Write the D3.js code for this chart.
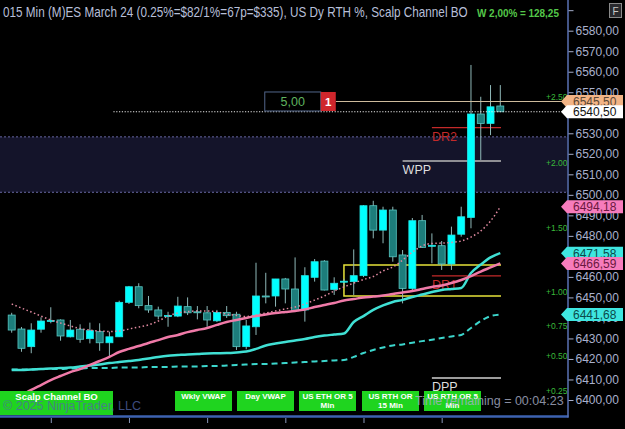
<!DOCTYPE html>
<html>
<head>
<meta charset="utf-8">
<script src="https://cdnjs.cloudflare.com/ajax/libs/d3/7.8.5/d3.min.js"></script>
<style>
html, body { margin: 0; padding: 0; background: #000; overflow: hidden; }
svg { display: block; font-family: "Liberation Sans", Arial, sans-serif; }
</style>
</head>
<body>
<div id="chart-area"></div>
<script>
// 15 min ES bars, 07:00 .. 19:30
var firstBar = "07:00";
var barMinutes = 15;

var opens = [6441.4, 6434.6, 6426.0, 6434.5, 6438.3, 6439.0, 6430.8, 6434.5, 6429.9, 6433.3,
	6427.9, 6430.8, 6447.6, 6455.2, 6446.0, 6443.9, 6440.9, 6440.9, 6445.5, 6443.0,
	6442.5, 6438.6, 6442.7, 6441.8, 6426.0, 6435.7, 6450.7, 6450.7, 6459.0, 6454.1,
	6443.9, 6459.8, 6467.7, 6453.9, 6457.7, 6457.7, 6460.6, 6494.7, 6482.8, 6492.6,
	6470.7, 6454.4, 6487.4, 6475.2, 6475.2, 6466.3, 6480.8, 6489.0, 6539.4, 6534.8, 6543.3];
var highs = [6442.5, 6435.6, 6437.4, 6440.3, 6445.2, 6439.3, 6439.0, 6436.9, 6437.7, 6437.4,
	6433.3, 6448.4, 6455.6, 6456.9, 6450.7, 6445.5, 6443.0, 6450.3, 6450.0, 6445.8,
	6445.8, 6443.9, 6445.8, 6443.0, 6439.0, 6466.9, 6462.0, 6459.0, 6459.5, 6469.5,
	6464.7, 6468.7, 6468.2, 6459.8, 6459.1, 6473.4, 6495.0, 6497.1, 6494.2, 6494.2,
	6473.1, 6488.7, 6490.2, 6481.2, 6477.5, 6484.5, 6494.2, 6563.3, 6547.8, 6553.5, 6553.5];
var lows = [6432.8, 6423.5, 6422.8, 6432.8, 6437.4, 6428.9, 6430.5, 6427.9, 6427.6, 6424.0,
	6421.4, 6430.7, 6446.8, 6444.7, 6442.5, 6439.3, 6435.7, 6440.4, 6441.4, 6439.3,
	6435.7, 6438.0, 6440.0, 6424.4, 6424.7, 6431.7, 6447.1, 6445.5, 6447.1, 6443.4,
	6438.2, 6457.7, 6453.4, 6451.2, 6455.2, 6451.2, 6459.9, 6478.8, 6476.4, 6467.4,
	6447.1, 6453.6, 6474.1, 6466.6, 6463.4, 6463.4, 6479.6, 6483.7, 6517.0, 6529.1, 6540.5];
var closes = [6434.1, 6425.2, 6434.1, 6438.5, 6438.8, 6431.2, 6434.1, 6429.6, 6433.8, 6427.9,
	6430.8, 6447.6, 6455.2, 6446.0, 6443.9, 6440.9, 6441.2, 6445.8, 6442.5, 6442.8,
	6439.0, 6442.7, 6441.1, 6426.0, 6436.1, 6450.7, 6450.4, 6459.0, 6454.1, 6443.5,
	6460.6, 6467.4, 6453.6, 6456.9, 6457.9, 6460.6, 6494.7, 6482.8, 6492.6, 6469.8,
	6454.4, 6487.4, 6474.4, 6475.4, 6466.3, 6480.4, 6489.3, 6539.4, 6534.8, 6542.9, 6540.5];

// indicator lines, one value per bar
var pinkVwap = [6400.5, 6402.4, 6404.9, 6407.3, 6409.7, 6411.7, 6413.6, 6415.1, 6417.1, 6419.0,
	6421.0, 6423.4, 6424.9, 6426.3, 6427.8, 6429.2, 6430.7, 6431.7, 6433.1, 6434.1,
	6435.1, 6436.6, 6438.0, 6439.0, 6440.0, 6440.9, 6441.7, 6442.4, 6442.9, 6443.4,
	6444.1, 6445.3, 6446.3, 6447.3, 6448.5, 6449.2, 6450.0, 6450.4, 6450.9, 6451.7,
	6452.4, 6453.1, 6454.1, 6455.1, 6455.8, 6457.0, 6458.5, 6460.4, 6462.6, 6464.6, 6466.59];
var pinkDotted = [6446.8, 6444.8, 6442.9, 6440.9, 6439.0, 6437.5, 6436.1, 6434.8, 6434.1, 6433.6,
	6433.4, 6433.6, 6434.6, 6435.6, 6436.6, 6438.5, 6440.9, 6442.4, 6443.1, 6443.4,
	6443.4, 6442.9, 6441.9, 6441.2, 6440.7, 6441.4, 6442.4, 6443.4, 6444.4, 6445.3,
	6446.8, 6448.7, 6450.7, 6453.1, 6455.1, 6457.0, 6458.7, 6460.2, 6462.9, 6464.8,
	6468.2, 6472.1, 6475.1, 6476.3, 6476.5, 6476.8, 6477.5, 6479.4, 6482.4, 6487.2, 6494.18];
var tealVwap = [6414.6, 6414.6, 6414.9, 6415.1, 6415.4, 6415.6, 6415.8, 6416.3, 6416.8, 6417.3,
	6418.0, 6418.5, 6419.0, 6419.5, 6420.2, 6421.0, 6421.6, 6421.9, 6422.2, 6422.4,
	6422.7, 6422.8, 6422.9, 6423.2, 6423.6, 6424.9, 6426.6, 6427.5, 6428.3, 6429.0,
	6429.7, 6430.7, 6431.4, 6431.9, 6432.4, 6438.0, 6440.9, 6443.9, 6446.1, 6447.8,
	6448.8, 6450.2, 6451.4, 6452.6, 6453.6, 6454.1, 6454.6, 6461.9, 6466.0, 6469.5, 6471.58];
var tealDashed = [6414.9, 6414.9, 6414.9, 6415.1, 6415.1, 6415.1, 6415.4, 6415.4, 6415.6, 6415.6,
	6415.6, 6415.8, 6415.8, 6415.8, 6416.1, 6416.1, 6416.1, 6416.3, 6416.3, 6416.3,
	6416.6, 6416.6, 6416.8, 6417.1, 6417.3, 6417.5, 6417.5, 6417.8, 6418.0, 6418.3,
	6418.5, 6418.8, 6419.0, 6419.3, 6419.5, 6421.0, 6422.9, 6424.4, 6425.6, 6426.6,
	6427.1, 6427.9, 6428.7, 6429.4, 6430.2, 6431.0, 6431.7, 6435.1, 6438.5, 6440.9, 6441.68];

var priceTicks = [6400, 6410, 6420, 6430, 6440, 6450, 6460, 6470, 6480, 6490,
	6500, 6510, 6520, 6530, 6540, 6550, 6560, 6570, 6580, 6590];
var timeTicks = ["08:00", "10:00", "12:00", "14:00", "16:00", "18:00"];

// pivot levels
var levelNames = ["DR2", "WPP", "DR1", "DPP"];
var levelPrices = [6532.75, 6516.5, 6460.5, 6410.75];
var levelStarts = ["17:45", "17:00", "17:45", "17:45"];

// shaded zone and opening range
var zonePrices = [6528.25, 6501.25];
var orPrices = [6465.75, 6450.75];
var orStart = "15:30";

// percent labels
var pctLabels = ["+2.50%", "+2.00%", "+1.50%", "+1.00%", "+0.75%", "+0.50%", "+0.25%"];
var pctPrices = [6547.5, 6515.5, 6483.75, 6452.5, 6436.0, 6421.5, 6404.5];

// order + last price
var orderPrice = 6545.50;
var orderQty = "5,00";
var orderCount = "1";
var orderStart = "13:30";
var lastPrice = 6540.50;
var lastStart = "09:30";

// right axis price markers
var tagPrices = [6545.50, 6540.50, 6494.18, 6471.58, 6466.59, 6441.68];
var tagFill = ["#f2b486", "#ffffff", "#f77cbc", "#3fe6e0", "#f77cbc", "#3fe6e0"];
var tagText = ["#5a4634", "#111111", "#6a1840", "#0b4a4a", "#6a1840", "#0b4a4a"];

var buttonLabels = [["Scalp Channel BO"], ["Wkly VWAP"], ["Day VWAP"],
	["US ETH OR 5", "Min"], ["US RTH OR", "15 Min"], ["US RTH OR 5", "Min"]];
var buttonX = [0, 175, 237, 299, 362, 424];

var W = 625, H = 429;
var plotRight = 567, plotBottom = 416;

var parseTime = d3.timeParse("%H:%M");
var fmtPrice = function(d){ return d3.format(".2f")(d).replace(".", ","); };

var times = opens.map(function(d, i){
	return d3.timeMinute.offset(parseTime(firstBar), i * barMinutes);
});

var x = d3.scaleTime()
	.domain([times[0], times[times.length - 1]])
	.range([11.7, 500.3]);
var y = d3.scaleLinear()
	.domain([6400, 6580])
	.range([400, 30.7]);

var xEnd = x(times[times.length - 1]) + 0.7;

var svg = d3.select("#chart-area")
	.append("svg")
	.attr("width", W)
	.attr("height", H);

svg.append("rect").attr("width", W).attr("height", H).attr("fill", "#000");

svg.append("defs").append("clipPath").attr("id", "plot-clip")
	.append("rect").attr("width", plotRight).attr("height", plotBottom);

var g = svg.append("g").attr("clip-path", "url(#plot-clip)");

// shaded zone
g.append("rect")
	.attr("x", 0).attr("width", plotRight)
	.attr("y", y(zonePrices[0]))
	.attr("height", y(zonePrices[1]) - y(zonePrices[0]))
	.attr("fill", "#14142a");
zonePrices.forEach(function(p){
	g.append("line")
		.attr("x1", 0).attr("x2", plotRight)
		.attr("y1", y(p)).attr("y2", y(p))
		.attr("stroke", "#6868a4").attr("stroke-width", 1)
		.attr("stroke-dasharray", "2,2");
});

// buttons
var buttons = svg.append("g");
buttonLabels.forEach(function(lines, i){
	var wide = i == 0;
	var bw = wide ? 113 : 57;
	var b = buttons.append("g").attr("transform", "translate(" + buttonX[i] + ",391)");
	b.append("rect")
		.attr("width", bw).attr("height", wide ? 24 : 20)
		.attr("fill", "#1fd41f");
	lines.forEach(function(t, j){
		b.append("text")
			.attr("x", bw / 2).attr("y", wide ? 9 : 7.5 + j * 9.5)
			.attr("text-anchor", "middle")
			.attr("font-size", wide ? 9.5 : 8)
			.attr("font-weight", "bold")
			.attr("fill", "#fff")
			.text(t);
	});
});

// opening range box
var orTop = y(orPrices[0]), orBot = y(orPrices[1]), orLeft = x(parseTime(orStart));
g.append("path")
	.attr("d", "M" + xEnd + "," + orTop + "H" + orLeft + "V" + orBot + "H" + xEnd)
	.attr("fill", "none")
	.attr("stroke", "#e6e23a")
	.attr("stroke-width", 1.5);

// pivot levels
var levelColor = {DR2: "#c42a2a", DR1: "#c42a2a", WPP: "#b8b8b8", DPP: "#d0d0d0"};
levelNames.forEach(function(name, i){
	var lx = x(parseTime(levelStarts[i]));
	var ly = y(levelPrices[i]);
	g.append("line")
		.attr("x1", lx).attr("x2", xEnd)
		.attr("y1", ly).attr("y2", ly)
		.attr("stroke", levelColor[name])
		.attr("stroke-width", name == "WPP" || name == "DPP" ? 1.5 : 1.2);
	g.append("text")
		.attr("x", lx).attr("y", ly + 13)
		.attr("font-size", 12.5)
		.attr("fill", name.indexOf("DR") == 0 ? "#c42a2a" : "#dedede")
		.text(name);
});

// candles
var bodyW = 7;
var candle = g.selectAll("g.candle")
	.data(times)
	.enter()
	.append("g")
	.attr("class", "candle");

candle.append("line")
	.attr("x1", function(d){ return x(d); })
	.attr("x2", function(d){ return x(d); })
	.attr("y1", function(d, i){ return y(highs[i]); })
	.attr("y2", function(d, i){ return y(lows[i]); })
	.attr("stroke", "#8fb8b8")
	.attr("stroke-width", 1);

candle.append("rect")
	.attr("x", function(d){ return x(d) - bodyW / 2; })
	.attr("width", bodyW)
	.attr("y", function(d, i){ return y(Math.max(opens[i], closes[i])); })
	.attr("height", function(d, i){
		return Math.max(1, Math.abs(y(opens[i]) - y(closes[i])));
	})
	.attr("fill", function(d, i){ return closes[i] >= opens[i] ? "#00ffff" : "#1d7d7b"; })
	.attr("stroke", function(d, i){ return closes[i] >= opens[i] ? "#22e4e4" : "#58c6c2"; })
	.attr("stroke-width", 0.8);

// indicator lines
var line = function(values){
	return d3.line()
		.x(function(d, i){ return x(times[i]); })
		.y(function(d){ return y(d); })
		.curve(d3.curveMonotoneX)(values);
};

g.append("path").attr("d", line(tealDashed))
	.attr("fill", "none").attr("stroke", "#3cd6cc")
	.attr("stroke-width", 2).attr("stroke-dasharray", "6,4");
g.append("path").attr("d", line(tealVwap))
	.attr("fill", "none").attr("stroke", "#40e0d4")
	.attr("stroke-width", 2.5);
g.append("path").attr("d", line(pinkVwap))
	.attr("fill", "none").attr("stroke", "#f07aa8")
	.attr("stroke-width", 2.5);
g.append("path").attr("d", line(pinkDotted))
	.attr("fill", "none").attr("stroke", "#e08aa0")
	.attr("stroke-width", 1.5).attr("stroke-dasharray", "1.5,2.5");

// last price dotted line
g.append("line")
	.attr("x1", x(parseTime(lastStart)) + 4).attr("x2", plotRight)
	.attr("y1", y(lastPrice)).attr("y2", y(lastPrice))
	.attr("stroke", "#e8e8e8").attr("stroke-width", 1.2)
	.attr("stroke-dasharray", "1.2,1.6");

// working order line and box
var ox = x(parseTime(orderStart)) - 1;
var oy = y(orderPrice);
g.append("line")
	.attr("x1", ox + 71).attr("x2", plotRight)
	.attr("y1", oy).attr("y2", oy)
	.attr("stroke", "#cdbb9c").attr("stroke-width", 1.2);
g.append("rect")
	.attr("x", ox).attr("y", oy - 9.5)
	.attr("width", 56).attr("height", 19)
	.attr("fill", "#000").attr("stroke", "#52668a").attr("stroke-width", 1);
g.append("text")
	.attr("x", ox + 28).attr("y", oy + 4.5)
	.attr("text-anchor", "middle").attr("font-size", 12.5)
	.attr("fill", "#5fb35f")
	.text(orderQty);
g.append("rect")
	.attr("x", ox + 56).attr("y", oy - 9.5)
	.attr("width", 15).attr("height", 19)
	.attr("fill", "#cf262c");
g.append("text")
	.attr("x", ox + 63.5).attr("y", oy + 4.5)
	.attr("text-anchor", "middle").attr("font-size", 11.5)
	.attr("font-weight", "bold").attr("fill", "#fff")
	.text(orderCount);

// percent labels
pctLabels.forEach(function(t, i){
	g.append("text")
		.attr("x", 546).attr("y", y(pctPrices[i]) + 3)
		.attr("font-size", 8.5)
		.attr("fill", "#3ab83a")
		.text(t);
});

// frame
svg.append("line")
	.attr("x1", 0).attr("x2", plotRight + 1.5)
	.attr("y1", plotBottom + 0.5).attr("y2", plotBottom + 0.5)
	.attr("stroke", "#3d62b0").attr("stroke-width", 2.5);
svg.append("line")
	.attr("x1", plotRight + 1).attr("x2", plotRight + 1)
	.attr("y1", 0).attr("y2", plotBottom + 1.5)
	.attr("stroke", "#5a72b4").attr("stroke-width", 1.5);

// right price axis
var yAxisCall = d3.axisRight(y)
	.tickValues(priceTicks)
	.tickSize(5)
	.tickPadding(2)
	.tickFormat(function(d){ return d > 6580 ? "" : fmtPrice(d); });
var yAxisGroup = svg.append("g")
	.attr("transform", "translate(" + (plotRight + 1.5) + ",0)")
	.call(yAxisCall);
yAxisGroup.select(".domain").remove();
yAxisGroup.selectAll("line").attr("stroke", "#a6aecb");
yAxisGroup.selectAll("text")
	.attr("fill", "#a9b0cc")
	.attr("font-size", 12)
	.attr("font-family", "'Liberation Sans', Arial, sans-serif");

// bottom time axis
var xAxisCall = d3.axisBottom(x)
	.tickValues(timeTicks.map(function(t){ return parseTime(t); }))
	.tickSize(5)
	.tickPadding(10)
	.tickFormat(d3.timeFormat("%H:%M"));
var xAxisGroup = svg.append("g")
	.attr("transform", "translate(0," + (plotBottom + 2) + ")")
	.call(xAxisCall);
xAxisGroup.select(".domain").remove();
xAxisGroup.selectAll("line").attr("stroke", "#8a96b8");
xAxisGroup.selectAll("text")
	.attr("fill", "#a9b0cc")
	.attr("font-size", 12)
	.attr("font-family", "'Liberation Sans', Arial, sans-serif");

// price tags
tagPrices.forEach(function(p, i){
	var ty = y(p);
	var x0 = 561, x1 = 623, h = 6.5;
	svg.append("path")
		.attr("d", "M" + x0 + "," + ty + "L" + (x0 + 6) + "," + (ty - h) + "H" + x1 +
			"V" + (ty + h) + "H" + (x0 + 6) + "Z")
		.attr("fill", tagFill[i]);
	svg.append("text")
		.attr("x", 573).attr("y", ty + 4.5)
		.attr("font-size", 12)
		.attr("fill", tagText[i])
		.text(fmtPrice(p));
});

// header
var title = svg.append("text")
	.attr("x", 0).attr("y", 0)
	.attr("font-size", 14)
	.attr("fill", "#b7bfd8")
	.text("015 Min (M)ES March 24  (0.25%=$82/1%=67p=$335), US Dy RTH %, Scalp Channel BO");
var tw = title.node().getComputedTextLength();
title.attr("transform", "translate(3,17) scale(" + (465 / tw) + ",1)");

var wText = svg.append("text")
	.attr("x", 0).attr("y", 0)
	.attr("font-size", 11)
	.attr("font-weight", "bold")
	.attr("fill", "#54c84a")
	.text("W 2,00% = 128,25");
var ww = wText.node().getComputedTextLength();
wText.attr("transform", "translate(477,17) scale(" + (82 / ww) + ",1)");

svg.append("rect")
	.attr("x", 609.5).attr("y", 3.5).attr("width", 12).attr("height", 14)
	.attr("fill", "#2a2a2e").attr("stroke", "#8a8a8a");
svg.append("text")
	.attr("x", 615.5).attr("y", 14.5).attr("text-anchor", "middle")
	.attr("font-size", 10).attr("fill", "#c8c8c8").text("F");

// footer texts
svg.append("text")
	.attr("x", 3).attr("y", 410)
	.attr("font-size", 12.5)
	.attr("fill", "#5366a8").attr("opacity", 0.75)
	.text("\u00a9 2025 NinjaTrader, LLC");
svg.append("text")
	.attr("x", 415).attr("y", 405)
	.attr("font-size", 12.5)
	.attr("fill", "#aab1c9").attr("opacity", 0.8)
	.text("Time remaining = 00:04:23");
</script>
</body>
</html>
